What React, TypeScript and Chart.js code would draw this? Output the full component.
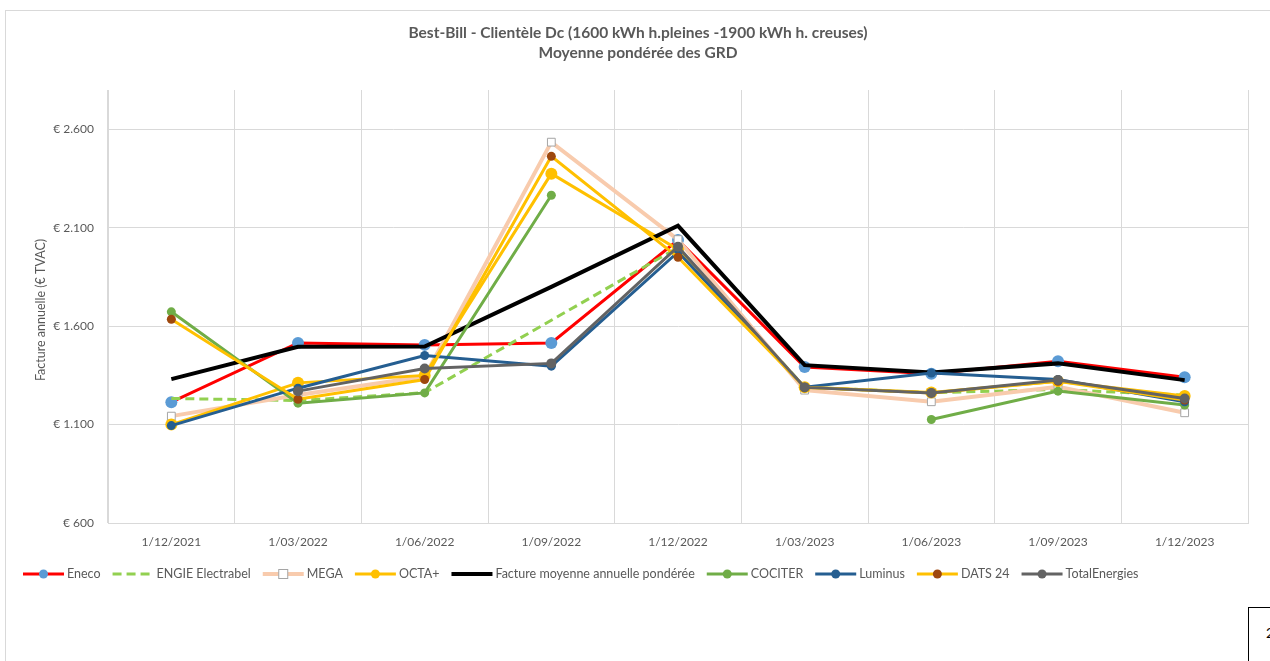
import React, { useEffect, useRef } from 'react';
import { Chart, registerables } from 'chart.js';

Chart.register(...registerables);

const categories = ['1/12/2021', '1/03/2022', '1/06/2022', '1/09/2022', '1/12/2022', '1/03/2023', '1/06/2023', '1/09/2023', '1/12/2023'];

const eneco = [1214, 1515, 1505, 1515, 2038, 1393, 1358, 1422, 1340];
const engie = [1233, 1222, 1262, 1630, 2000, 1290, 1262, 1278, 1250];
const mega = [1143, 1250, 1345, 2535, 2040, 1275, 1216, 1292, 1160];
const octa = [1100, 1312, 1350, 2375, 1990, 1290, 1263, 1320, 1245];
const facture = [1331, 1495, 1497, 1800, 2110, 1402, 1365, 1411, 1326];
const cociter = [1673, 1209, 1261, 2265, null, null, 1126, 1270, 1199];
const luminus = [1095, 1285, 1451, 1397, 1977, 1290, 1362, 1329, 1216];
const dats24 = [1635, 1229, 1329, 2463, 1950, 1290, 1260, 1320, 1225];
const totalEnergies = [null, 1270, 1385, 1411, 2004, 1289, 1261, 1326, 1233];

const yTicks = [600, 1100, 1600, 2100, 2600];

const titleLines = ['Best-Bill - Clientèle Dc (1600 kWh h.pleines -1900 kWh h. creuses)', 'Moyenne pondérée des GRD'];
const yTitle = 'Facture annuelle (€ TVAC)';

const TEXT = '#595959';
const FONT = 'Lato';

function fmt(v: number) {
  return '€ ' + String(v).replace(/\B(?=(\d{3})+(?!\d))/g, '.');
}

const decorPlugin = {
  id: 'decor',
  afterDraw(chart: any) {
    const ctx = chart.ctx as CanvasRenderingContext2D;
    ctx.save();
    ctx.fillStyle = TEXT;
    ctx.textAlign = 'center';
    ctx.textBaseline = 'middle';
    ctx.font = `bold 15.5px ${FONT}`;
    ctx.fillText(titleLines[0], 638, 33);
    ctx.fillText(titleLines[1], 638, 53);

    ctx.save();
    ctx.translate(41, 310);
    ctx.rotate(-Math.PI / 2);
    ctx.font = `12.5px ${FONT}`;
    ctx.fillText(yTitle, 0, 0);
    ctx.restore();

    ctx.font = `12.5px ${FONT}`;
    ctx.textAlign = 'left';
    let x = 23;
    const y = 574;
    chart.data.datasets.forEach((ds: any) => {
      ctx.save();
      ctx.strokeStyle = ds.borderColor;
      ctx.lineWidth = ds.borderWidth;
      ctx.setLineDash(ds.borderDash || []);
      ctx.beginPath();
      ctx.moveTo(x, y);
      ctx.lineTo(x + 41, y);
      ctx.stroke();
      ctx.restore();
      const cx = x + 20.5;
      if (ds.pointRadius > 0) {
        ctx.save();
        if (ds.pointStyle === 'rect') {
          ctx.fillStyle = '#ffffff';
          ctx.strokeStyle = ds.pointBorderColor;
          ctx.lineWidth = 1;
          ctx.fillRect(cx - 4.5, y - 4.5, 9, 9);
          ctx.strokeRect(cx - 4.5, y - 4.5, 9, 9);
        } else {
          ctx.fillStyle = ds.pointBackgroundColor;
          ctx.beginPath();
          ctx.arc(cx, y, 4.5, 0, Math.PI * 2);
          ctx.fill();
        }
        ctx.restore();
      }
      ctx.fillStyle = TEXT;
      ctx.fillText(ds.label, x + 44, y);
      x += 44 + ctx.measureText(ds.label).width + 12;
    });
    ctx.restore();
  },
};

function mk(label: string, data: (number | null)[], color: string, width: number, pointColor: string, radius: number, extra: any = {}) {
  return {
    label,
    data,
    borderColor: color,
    backgroundColor: color,
    borderWidth: width,
    pointBackgroundColor: pointColor,
    pointBorderColor: pointColor,
    pointBorderWidth: 0,
    pointRadius: radius,
    pointHoverRadius: radius,
    tension: 0,
    fill: false,
    ...extra,
  };
}

export default function App() {
  const ref = useRef<HTMLCanvasElement>(null);

  useEffect(() => {
    const canvas = ref.current;
    if (!canvas) return;
    const datasets: any[] = [
      mk('Eneco', eneco, '#FF0000', 3, '#5B9BD5', 6),
      mk('ENGIE Electrabel', engie, '#92D050', 3, '#92D050', 0, { borderDash: [9, 5] }),
      mk('MEGA', mega, '#F8CBAD', 4, '#ffffff', 5.5, { pointStyle: 'rect', pointBorderColor: '#A5A5A5', pointBorderWidth: 1, pointBackgroundColor: '#ffffff' }),
      mk('OCTA+', octa, '#FFC000', 3, '#FFC000', 6),
      mk('Facture moyenne annuelle pondérée', facture, '#000000', 4, '#000000', 0),
      mk('COCITER', cociter, '#70AD47', 3, '#70AD47', 4.5),
      mk('Luminus', luminus, '#255E91', 3, '#255E91', 4.5),
      mk('DATS 24', dats24, '#FFC000', 3, '#9E480E', 4.5),
      mk('TotalEnergies', totalEnergies, '#636363', 3, '#636363', 5),
    ];
    const n = datasets.length;
    datasets.forEach((d, i) => (d.order = n - i));

    const chart = new Chart(canvas, {
      type: 'line',
      data: { labels: categories, datasets },
      options: {
        responsive: false,
        animation: false,
        devicePixelRatio: 1,
        events: [],
        spanGaps: false,
        layout: { padding: { left: 0, right: 22, top: 90, bottom: 0 } },
        plugins: {
          legend: { display: false },
          title: { display: false },
          tooltip: { enabled: false },
        },
        scales: {
          x: {
            type: 'category',
            offset: true,
            grid: { offset: true, color: '#D9D9D9', lineWidth: 1, drawTicks: false },
            border: { display: true, color: '#D9D9D9' },
            ticks: { color: TEXT, font: { family: FONT, size: 12 }, padding: 12, maxRotation: 0, autoSkip: false },
            afterFit: (s: any) => { s.height = 138; },
          },
          y: {
            min: 600,
            max: 2800,
            grid: { color: '#D9D9D9', lineWidth: 1, drawTicks: false },
            border: { display: true, color: '#D9D9D9' },
            ticks: {
              color: TEXT,
              font: { family: FONT, size: 12 },
              padding: 14,
              callback: (v: any) => fmt(Number(v)),
            },
            afterBuildTicks: (s: any) => { s.ticks = yTicks.map((v) => ({ value: v })); },
            afterFit: (s: any) => { s.width = 108; },
          },
        },
      } as any,
      plugins: [decorPlugin],
    });
    return () => chart.destroy();
  }, []);

  return (
    <div style={{ position: 'fixed', left: 0, top: 0, width: 1270, height: 661, overflow: 'hidden', background: '#ffffff' }}>
      <div style={{ position: 'absolute', left: 5, top: 10, width: 1400, height: 800, borderLeft: '1px solid #D9D9D9', borderTop: '1px solid #D9D9D9' }} />
      <canvas ref={ref} width={1270} height={661} style={{ position: 'absolute', left: 0, top: 0, width: 1270, height: 661 }} />
      <div style={{ position: 'absolute', left: 1248, top: 607, width: 80, height: 100, border: '1px solid #000000', background: '#ffffff' }}>
        <span style={{ position: 'absolute', left: 17, top: 16, fontFamily: 'Lato', fontSize: 14, color: '#000000' }}>2</span>
      </div>
    </div>
  );
}
